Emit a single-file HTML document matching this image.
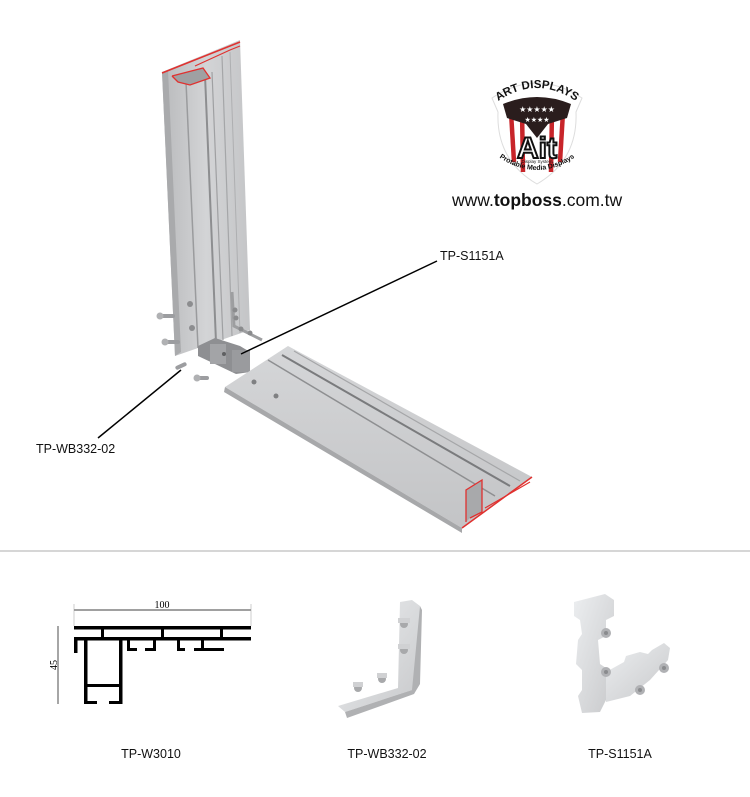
<!DOCTYPE html>
<html><head><meta charset="utf-8"><style>
body{margin:0;background:#fff;width:750px;height:797px;overflow:hidden;font-family:"Liberation Sans",Arial,sans-serif}
svg{display:block}
</style></head><body>
<svg width="750" height="797" viewBox="0 0 750 797" xmlns="http://www.w3.org/2000/svg">
<defs>
<linearGradient id="gv" x1="0" y1="0" x2="1" y2="0">
<stop offset="0" stop-color="#b9babc"/><stop offset="0.5" stop-color="#d3d4d6"/><stop offset="1" stop-color="#c4c5c7"/></linearGradient>
<linearGradient id="gh" x1="0" y1="0" x2="0" y2="1">
<stop offset="0" stop-color="#d5d6d8"/><stop offset="1" stop-color="#c3c4c6"/></linearGradient>
<linearGradient id="gm" x1="0" y1="0" x2="1" y2="1">
<stop offset="0" stop-color="#eceef0"/><stop offset="1" stop-color="#c8c9cb"/></linearGradient>
</defs>

<!-- vertical profile -->
<polygon points="162,72 240,40 250,330 175,356" fill="url(#gv)"/>
<polygon points="162,72 168,70 181,352 175,356" fill="#a9aaac"/>
<line x1="186" y1="82" x2="198" y2="348" stroke="#9a9b9d" stroke-width="1.5"/>
<line x1="205" y1="75" x2="216" y2="342" stroke="#8d8e90" stroke-width="2"/>
<line x1="212" y1="72" x2="223" y2="340" stroke="#9fa0a2" stroke-width="1.2"/>
<line x1="222" y1="56" x2="232" y2="336" stroke="#a5a6a8" stroke-width="1.2"/>
<line x1="230" y1="52" x2="240" y2="333" stroke="#aeafb1" stroke-width="1"/>
<polyline points="162,73 240,42" fill="none" stroke="#e0312f" stroke-width="1.5"/>
<polyline points="172,76 203,68 210,78 190,85 178,82 172,76" fill="#9fa0a2" stroke="#e0312f" stroke-width="1.3"/>
<polyline points="195,66 230,50 240,46" fill="none" stroke="#e0312f" stroke-width="1.2"/>
<circle cx="190" cy="304" r="3" fill="#8c8d8f"/><circle cx="192" cy="328" r="3" fill="#8c8d8f"/>
<polyline points="232,292 234,326 262,340" fill="none" stroke="#9d9ea0" stroke-width="3"/>
<circle cx="235" cy="310" r="2.5" fill="#8a8b8d"/><circle cx="236" cy="318" r="2.5" fill="#8a8b8d"/>
<circle cx="241" cy="329" r="2.5" fill="#8a8b8d"/><circle cx="250" cy="333" r="2.5" fill="#8a8b8d"/>
<rect x="157" y="314" width="18" height="4" rx="2" fill="#9c9da0"/><circle cx="160" cy="316" r="3.5" fill="#b0b1b3"/>
<rect x="162" y="340" width="18" height="4" rx="2" fill="#9c9da0"/><circle cx="165" cy="342" r="3.5" fill="#b0b1b3"/>
<rect x="175" y="364" width="12" height="4" rx="2" fill="#9c9da0" transform="rotate(-25 181 366)"/>
<rect x="195" y="376" width="14" height="4" rx="2" fill="#9c9da0"/><circle cx="197" cy="378" r="3.5" fill="#b0b1b3"/>
<polygon points="198,346 215,338 240,346 250,352 250,372 236,374 215,364 198,356" fill="#8e8f92"/>
<rect x="232" y="350" width="18" height="22" fill="#9a9b9e"/>
<rect x="210" y="344" width="16" height="20" fill="#a3a4a7"/>
<circle cx="224" cy="354" r="2" fill="#5f6062"/>

<!-- horizontal profile -->
<polygon points="225,387 288,346 532,477 462,528" fill="url(#gh)"/>
<polygon points="225,387 462,528 462,533 224,392" fill="#a7a8aa"/>
<line x1="268" y1="360" x2="495" y2="496" stroke="#8e8f91" stroke-width="1.5"/>
<line x1="282" y1="355" x2="510" y2="486" stroke="#7a7b7d" stroke-width="2"/>
<line x1="294" y1="351" x2="520" y2="481" stroke="#a5a6a8" stroke-width="1.2"/>
<circle cx="254" cy="382" r="2.5" fill="#7f8082"/><circle cx="276" cy="396" r="2.5" fill="#7f8082"/>
<polyline points="462,528 532,477" stroke="#e0312f" stroke-width="1.5" fill="none"/>
<polyline points="466,522 466,490 482,480 482,512 470,518" fill="#a8a9ab" stroke="#e0312f" stroke-width="1.3"/>
<polyline points="485,508 530,482" stroke="#e0312f" stroke-width="1.2" fill="none"/>

<line x1="437" y1="261" x2="241" y2="354" stroke="#000" stroke-width="1.5"/>
<line x1="98" y1="438" x2="181" y2="370" stroke="#000" stroke-width="1.5"/>
<text x="440" y="260" font-size="12.5" fill="#111">TP-S1151A</text>
<text x="36" y="453" font-size="12.5" fill="#111">TP-WB332-02</text>

<!-- logo -->
<path d="M492,98 Q537,68 582,98 L576,112 Q578,160 537,184 Q496,160 498,112 Z" fill="#fff" stroke="#ddd" stroke-width="1"/>
<path d="M506,110 Q537,98 568,110 L566,140 Q562,168 537,176 Q512,168 508,140 Z" fill="#fff"/>
<g stroke="#c8252a" stroke-width="4.5">
<line x1="511" y1="112" x2="514" y2="162"/><line x1="522" y1="110" x2="523" y2="172"/>
<line x1="552" y1="110" x2="551" y2="172"/><line x1="563" y1="112" x2="560" y2="162"/></g>
<path d="M503,104 Q537,90 571,104 L567,118 L548,124 L537,138 L526,124 L507,118 Z" fill="#2a1d1d"/>
<text x="537" y="112" font-size="8" fill="#fff" text-anchor="middle">★★★★★</text>
<text x="537" y="122" font-size="7" fill="#fff" text-anchor="middle">★★★★</text>
<path id="arc" d="M494,104 Q537,72 580,104" fill="none"/>
<text font-size="11.5" font-weight="bold" fill="#111"><textPath href="#arc" startOffset="50%" text-anchor="middle">ART DISPLAYS</textPath></text>
<text x="537" y="158" font-size="30" font-weight="bold" text-anchor="middle" fill="#fff" stroke="#111" stroke-width="2">Ait</text>
<text x="537" y="163" font-size="4.5" text-anchor="middle" fill="#111">Display System</text>
<path id="arc2" d="M497,156 Q537,184 577,156" fill="none"/>
<text font-size="7" font-weight="bold" fill="#111"><textPath href="#arc2" startOffset="50%" text-anchor="middle">Protable Media Displays</textPath></text>
<text x="452" y="206" font-size="17.5" fill="#111">www.<tspan font-weight="bold">topboss</tspan>.com.tw</text>

<line x1="0" y1="551" x2="750" y2="551" stroke="#c9c9c9" stroke-width="1.5"/>

<!-- profile drawing -->
<g fill="#000">
<rect x="74" y="626" width="177" height="3.5"/>
<rect x="74" y="637" width="177" height="3.5"/>
<rect x="101" y="628" width="3" height="10"/><rect x="161" y="628" width="3" height="10"/><rect x="220" y="628" width="3" height="10"/>
<rect x="74" y="637" width="3.5" height="16"/>
<rect x="84" y="637" width="3.5" height="67"/><rect x="119" y="637" width="3.5" height="67"/>
<rect x="84" y="684" width="38" height="3"/>
<rect x="84" y="701" width="13" height="3"/><rect x="109" y="701" width="13" height="3"/>
<rect x="127" y="640" width="3" height="11"/><rect x="127" y="648" width="10" height="3"/>
<rect x="145" y="648" width="10" height="3"/><rect x="153" y="640" width="3" height="11"/>
<rect x="177" y="640" width="3" height="11"/><rect x="177" y="648" width="8" height="3"/>
<rect x="201" y="640" width="3" height="11"/><rect x="194" y="648" width="30" height="3"/>
</g>
<line x1="74" y1="610" x2="251" y2="610" stroke="#000" stroke-width="0.7"/>
<line x1="74" y1="604" x2="74" y2="626" stroke="#999" stroke-width="0.5"/>
<line x1="251" y1="604" x2="251" y2="626" stroke="#999" stroke-width="0.5"/>
<line x1="58" y1="626" x2="58" y2="704" stroke="#000" stroke-width="0.7"/>
<text x="162" y="608" font-size="10" font-family="Liberation Serif,serif" text-anchor="middle">100</text>
<text x="57" y="665" font-size="10" font-family="Liberation Serif,serif" text-anchor="middle" transform="rotate(-90 57 665)">45</text>

<!-- bracket -->
<polygon points="400,602 412,600 420,606 418,680 412,690 345,712 338,706 398,688" fill="url(#gm)"/>
<polygon points="412,690 420,606 422,610 420,684 414,694 347,718 345,712" fill="#b0b1b3"/>
<g fill="#a8a9ab"><circle cx="404" cy="624" r="4"/><circle cx="404" cy="650" r="4"/><circle cx="358" cy="688" r="4"/><circle cx="382" cy="679" r="4"/></g>
<g fill="#d0d1d3"><rect x="398" y="618" width="12" height="5"/><rect x="398" y="644" width="12" height="5"/><rect x="353" y="682" width="10" height="5"/><rect x="377" y="673" width="10" height="5"/></g>

<!-- block -->
<polygon points="574,602 605,594 614,600 614,616 606,620 606,636 598,640 600,664 606,668 606,700 600,712 582,713 578,696 582,690 582,670 576,664 578,640 582,634 580,620 574,616" fill="url(#gm)"/>
<polygon points="606,672 624,662 626,656 640,652 648,654 652,650 664,643 670,648 668,660 650,680 630,696 606,702" fill="url(#gm)"/>
<g fill="#b0b1b4"><circle cx="606" cy="633" r="5"/><circle cx="606" cy="672" r="5"/><circle cx="664" cy="668" r="5"/><circle cx="640" cy="690" r="5"/></g>
<g fill="#8a8b8e"><circle cx="606" cy="633" r="2"/><circle cx="606" cy="672" r="2"/><circle cx="664" cy="668" r="2"/><circle cx="640" cy="690" r="2"/></g>

<text x="151" y="758" font-size="12.5" text-anchor="middle" fill="#111">TP-W3010</text>
<text x="387" y="758" font-size="12.5" text-anchor="middle" fill="#111">TP-WB332-02</text>
<text x="620" y="758" font-size="12.5" text-anchor="middle" fill="#111">TP-S1151A</text>
</svg>
</body></html>
